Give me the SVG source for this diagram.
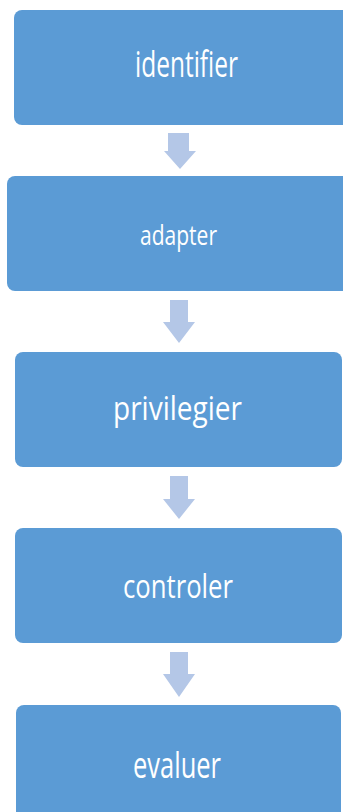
<svg xmlns="http://www.w3.org/2000/svg" width="343" height="812" viewBox="0 0 343 812">
<style>
.box{fill:#5B9BD5;}
.lbl{fill:#FFFFFF;font-family:"Open Sans","Noto Sans","Liberation Sans",sans-serif;text-anchor:start;}
.arr{fill:#B4C7E7;}
</style>
<rect width="343" height="812" fill="#FFFFFF"/>
<g id="connectors">
<polygon class="arr" points="168,133 189,133 189,151 196,151 180,169 164,151 168,151"/>
<polygon class="arr" points="170,300 188,300 188,322 195,322 179,343 163,322 170,322"/>
<polygon class="arr" points="170,476 188,476 188,499 195,499 179,519 163,499 170,499"/>
<polygon class="arr" points="170,652 188,652 188,674 195,674 179,697 163,674 170,674"/>
</g>
<g id="identifier">
<rect class="box" x="14" y="10" width="350" height="115" rx="8"/>
<text class="lbl" x="135" y="77" font-size="36" textLength="103" lengthAdjust="spacingAndGlyphs">identifier</text>
</g>
<g id="adapter">
<rect class="box" x="7" y="176" width="345" height="115" rx="8"/>
<text class="lbl" x="140" y="245" font-size="28" textLength="77" lengthAdjust="spacingAndGlyphs">adapter</text>
</g>
<g id="privilegier">
<rect class="box" x="15" y="352" width="327" height="115" rx="8"/>
<text class="lbl" x="113" y="420" font-size="33" textLength="129" lengthAdjust="spacingAndGlyphs">privilegier</text>
</g>
<g id="controler">
<rect class="box" x="15" y="528" width="327" height="115" rx="8"/>
<text class="lbl" x="123" y="598" font-size="33" textLength="110" lengthAdjust="spacingAndGlyphs">controler</text>
</g>
<g id="evaluer">
<rect class="box" x="16" y="705" width="325" height="120" rx="8"/>
<text class="lbl" x="133" y="778" font-size="37" textLength="88" lengthAdjust="spacingAndGlyphs">evaluer</text>
</g>
</svg>
